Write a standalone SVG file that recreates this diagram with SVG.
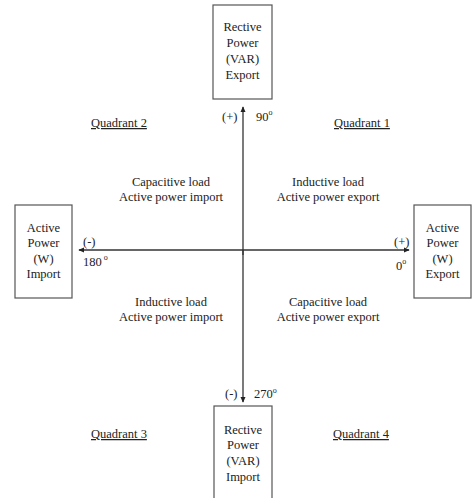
<svg xmlns="http://www.w3.org/2000/svg" width="472" height="498" viewBox="0 0 472 498" font-family="'Liberation Serif', 'Times New Roman', serif">
<defs>
<style>
text{font-family:'Liberation Serif','Times New Roman',serif;font-size:12.5px;fill:#222}
.c{text-anchor:middle}
.u{text-decoration:underline}
.box{fill:#fff;stroke:#555;stroke-width:1.2}
.ax{stroke:#333;stroke-width:1.3;fill:none}
.sup{font-size:8px}
</style>
<marker id="ah" viewBox="0 0 8 8" refX="7" refY="4" markerWidth="6" markerHeight="6" markerUnits="userSpaceOnUse" orient="auto">
<path d="M0,0.5 L8,4 L0,7.5 z" fill="#222"/>
</marker>
</defs>
<rect width="472" height="498" fill="#fff"/>
<g id="connectors">
<line class="ax" x1="243" y1="255" x2="243" y2="107" marker-end="url(#ah)"/>
<line class="ax" x1="243" y1="250" x2="243" y2="402" marker-end="url(#ah)"/>
<line class="ax" x1="243" y1="250" x2="79" y2="250" marker-end="url(#ah)"/>
<line class="ax" x1="243" y1="250" x2="409" y2="250" marker-end="url(#ah)"/>
</g>
<g id="top">
<rect class="box" x="213" y="5" width="59" height="94"/>
<text class="c" x="242.5" y="31">Rective</text>
<text class="c" x="242.5" y="47">Power</text>
<text class="c" x="242.5" y="63">(VAR)</text>
<text class="c" x="242.5" y="79">Export</text>
</g>
<g id="left">
<rect class="box" x="15" y="205" width="57" height="93"/>
<text class="c" x="43.5" y="232">Active</text>
<text class="c" x="43.5" y="247">Power</text>
<text class="c" x="43.5" y="263">(W)</text>
<text class="c" x="43.5" y="278">Import</text>
</g>
<g id="right">
<rect class="box" x="414" y="205" width="57" height="93"/>
<text class="c" x="442.5" y="232">Active</text>
<text class="c" x="442.5" y="247">Power</text>
<text class="c" x="442.5" y="263">(W)</text>
<text class="c" x="442.5" y="278">Export</text>
</g>
<g id="bottom">
<rect class="box" x="214" y="406" width="58" height="100"/>
<text class="c" x="243" y="434">Rective</text>
<text class="c" x="243" y="449">Power</text>
<text class="c" x="243" y="465">(VAR)</text>
<text class="c" x="243" y="481">Import</text>
</g>
<g id="labels">
<text x="222" y="121">(+)</text>
<text x="256" y="121">90<tspan class="sup" dy="-6">o</tspan></text>
<text x="83" y="246">(-)</text>
<text x="83" y="266">180<tspan class="sup" dx="2" dy="-6">o</tspan></text>
<text x="394" y="246">(+)</text>
<text x="396" y="270">0<tspan class="sup" dy="-6">o</tspan></text>
<text x="225" y="398">(-)</text>
<text x="254" y="398">270<tspan class="sup" dy="-5">o</tspan></text>
</g>
<g id="quadrants">
<text class="u" x="91" y="127">Quadrant 2</text>
<text class="u" x="334" y="127">Quadrant 1</text>
<text class="u" x="91" y="438">Quadrant 3</text>
<text class="u" x="333" y="438">Quadrant 4</text>
<text class="c" x="171" y="186">Capacitive load</text>
<text class="c" x="171" y="201">Active power import</text>
<text class="c" x="328" y="186">Inductive load</text>
<text class="c" x="328" y="201">Active power export</text>
<text class="c" x="171" y="306">Inductive load</text>
<text class="c" x="171" y="321">Active power import</text>
<text class="c" x="328" y="306">Capacitive load</text>
<text class="c" x="328" y="321">Active power export</text>
</g>
</svg>
